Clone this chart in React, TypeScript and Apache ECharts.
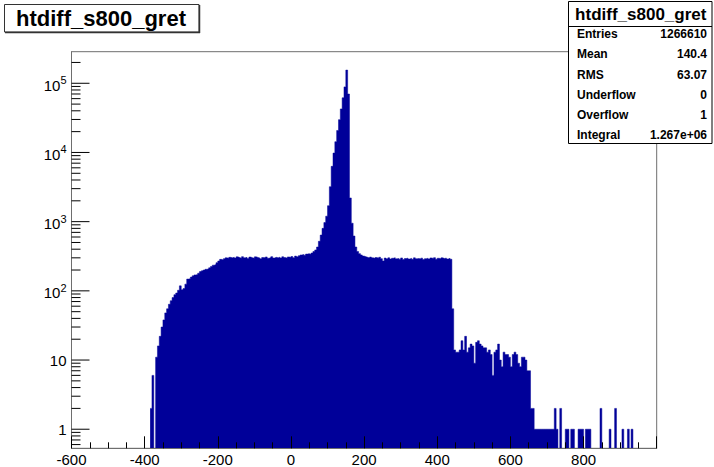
import React, { useEffect, useRef } from 'react';
import * as echarts from 'echarts';

// ---- data (5-unit bins, counts) ----
const binStart = -385;
const binWidth = 5;

// -385 .. -165
const countsRise = [
  2, 6, 0, 11, 16, 22, 30, 38, 48, 55,
  64, 72, 80, 88, 93, 102, 118, 104, 108, 125,
  148, 150, 158, 165, 170, 172, 180, 190, 195, 200,
  205, 207, 215, 225, 235, 240, 255, 270, 285, 280,
  292, 300, 295, 305, 300,
];
// -160 .. 55
const countsPlateauLeft = [
  306, 298, 310, 303, 296, 312, 300, 305, 293, 308,
  301, 297, 310, 304, 299, 290, 303, 300, 309, 296,
  303, 312, 298, 305, 300, 307, 299, 311, 303, 296,
  309, 305, 313, 302, 318, 310, 322, 330, 336, 328,
  340, 345, 338, 352,
];
// 60 .. 195
const countsPeak = [
  370, 390, 430, 520, 640, 800, 970, 1200, 1700, 3200,
  6300, 9800, 14300, 20800, 29800, 42600, 61700, 88700, 155000, 70000,
  2200, 950, 620, 430, 370, 345, 330, 318,
];
// 200 .. 435
const countsPlateauRight = [
  312, 305, 298, 308, 300, 295, 303, 297, 306, 292,
  270, 298, 291, 300, 288, 296, 302, 290, 294, 287,
  299, 284, 293, 297, 289, 295, 286, 300, 291, 294,
  288, 297, 283, 292, 296, 289, 299, 293, 302, 287,
  296, 291, 300, 294, 298, 289, 295, 286,
];
// 440 .. 660
const countsShelf = [
  55, 14, 13, 13, 14, 19, 14, 22, 13, 15,
  17, 16, 9, 18, 19, 17, 16, 15, 15, 13,
  14, 12, 6, 13, 14, 17, 10, 8, 13, 12,
  12, 11, 8, 12, 13, 12, 9, 8, 11, 11,
  10, 7, 7, 2, 2,
];
// 665 .. 930
const countsTail = [
  1, 1, 1, 1, 1, 1, 1, 1, 1, 1,
  1, 2, 1, 0, 2, 0, 0, 1, 1, 0,
  1, 1, 0, 0, 1, 1, 1, 0, 1, 1,
  1, 0, 0, 0, 0, 0, 2, 0, 0, 0,
  0, 1, 0, 0, 2, 0, 0, 0, 1, 0,
  0, 1, 0, 1,
];

const xMin = -600;
const xMax = 1000;
const xInterval = 200;
const yMin = 0.53;
const yMax = 2.86e5;
const yMajorTicks = [1, 10, 100, 1000, 10000, 100000];
const yMinorTicks = [
  0.6, 0.7, 0.8, 0.9,
  2, 3, 4, 5, 6, 7, 8, 9,
  20, 30, 40, 50, 60, 70, 80, 90,
  200, 300, 400, 500, 600, 700, 800, 900,
  2000, 3000, 4000, 5000, 6000, 7000, 8000, 9000,
  20000, 30000, 40000, 50000, 60000, 70000, 80000, 90000,
  200000,
];

const histTitle = 'htdiff_s800_gret';
const statsLabels = ['Entries', 'Mean', 'RMS', 'Underflow', 'Overflow', 'Integral'];
const statsValues = ['1266610', '140.4', '63.07', '0', '1', '1.267e+06'];

const FONT = '"Liberation Sans", Arial, Helvetica, sans-serif';
const FILL = '#000099';
const FRAME = '#6e6e6e';
const ZERO_FLOOR = 0.01;

export default function App() {
  const ref = useRef<HTMLDivElement>(null);

  useEffect(() => {
    if (!ref.current) return;
    const chart = echarts.init(ref.current, null, { renderer: 'svg' });

    const counts = [
      ...countsRise,
      ...countsPlateauLeft,
      ...countsPeak,
      ...countsPlateauRight,
      ...countsShelf,
      ...countsTail,
    ];
    const points: number[][] = counts.map((c, i) => [binStart + i * binWidth, c > 0 ? c : ZERO_FLOOR]);
    points.push([binStart + counts.length * binWidth, ZERO_FLOOR]);

    const tickData = [
      ...yMajorTicks.map((v) => [xMin, v, 1]),
      ...yMinorTicks.map((v) => [xMin, v, 0]),
    ];

    const statsGraphics: any[] = [];
    const boxX = 568;
    const boxY = 1;
    const boxW = 143.5;
    const boxH = 142;
    statsGraphics.push({
      type: 'rect',
      z: 100,
      shape: { x: boxX + 0.5, y: boxY + 0.5, width: boxW, height: boxH },
      style: { fill: '#fff', stroke: '#000', lineWidth: 1 },
    });
    statsGraphics.push({
      type: 'line',
      z: 101,
      shape: { x1: boxX, y1: 26.5, x2: boxX + boxW + 0.5, y2: 26.5 },
      style: { stroke: '#000', lineWidth: 1 },
    });
    statsGraphics.push({
      type: 'text',
      z: 101,
      x: boxX + boxW / 2 + 1,
      y: 14,
      style: {
        text: histTitle,
        font: `bold 17px ${FONT}`,
        fill: '#000',
        align: 'center',
        verticalAlign: 'middle',
        textAlign: 'center',
        textVerticalAlign: 'middle',
      },
    });
    statsLabels.forEach((lab, i) => {
      const y = 34.3 + i * 20.15;
      statsGraphics.push({
        type: 'text',
        z: 101,
        x: 577,
        y,
        style: {
          text: lab,
          font: `bold 12px ${FONT}`,
          fill: '#000',
          align: 'left',
          verticalAlign: 'middle',
          textAlign: 'left',
          textVerticalAlign: 'middle',
        },
      });
      statsGraphics.push({
        type: 'text',
        z: 101,
        x: 707,
        y,
        style: {
          text: statsValues[i],
          font: `bold 12px ${FONT}`,
          fill: '#000',
          align: 'right',
          verticalAlign: 'middle',
          textAlign: 'right',
          textVerticalAlign: 'middle',
        },
      });
    });

    const option: any = {
      animation: false,
      backgroundColor: '#ffffff',
      grid: {
        left: 71.5,
        right: 57.3,
        top: 51.7,
        bottom: 18.7,
        show: true,
        borderColor: FRAME,
        borderWidth: 1,
        backgroundColor: 'transparent',
        containLabel: false,
        outerBoundsMode: 'none',
      },
      xAxis: {
        type: 'value',
        min: xMin,
        max: xMax,
        interval: xInterval,
        z: 5,
        axisLine: { show: true, onZero: false, lineStyle: { color: FRAME, width: 1 } },
        axisTick: { show: true, inside: true, length: 12, lineStyle: { color: '#000', width: 1 } },
        minorTick: { show: true, splitNumber: 4, length: 6, lineStyle: { color: '#000', width: 1 } },
        splitLine: { show: false },
        minorSplitLine: { show: false },
        axisLabel: {
          margin: 5,
          fontFamily: FONT,
          fontSize: 15,
          lineHeight: 13,
          color: '#000',
          formatter: (v: number) => (v >= xMax ? '' : String(v)),
        },
      },
      yAxis: {
        type: 'log',
        logBase: 10,
        min: yMin,
        max: yMax,
        z: 5,
        axisLine: { show: true, onZero: false, lineStyle: { color: FRAME, width: 1 } },
        axisTick: { show: false },
        splitLine: { show: false },
        axisLabel: {
          margin: 5,
          fontFamily: FONT,
          fontSize: 15,
          color: '#000',
          formatter: (v: number) => {
            const l = Math.log10(v);
            const e = Math.round(l);
            if (Math.abs(l - e) > 1e-6) return '';
            if (e === 0) return '1';
            if (e === 1) return '10';
            return `{b|10}{sup|${e}}`;
          },
          rich: {
            b: { fontFamily: FONT, fontSize: 15, color: '#000', padding: [4, 0, 0, 0] },
            sup: { fontFamily: FONT, fontSize: 11, color: '#000', padding: [0, 0, 6, 0] },
          },
        },
      },
      series: [
        {
          type: 'line',
          step: 'end',
          data: points,
          symbol: 'none',
          silent: true,
          clip: true,
          z: 2,
          lineStyle: { color: FILL, width: 0.5 },
          areaStyle: { color: FILL, opacity: 1, origin: 'start' },
        },
        {
          type: 'custom',
          silent: true,
          z: 6,
          data: tickData,
          encode: { x: 0, y: 1 },
          renderItem: (params: any, api: any) => {
            const p = api.coord([api.value(0), api.value(1)]);
            const len = api.value(2) ? 18 : 9;
            return {
              type: 'line',
              shape: { x1: p[0], y1: p[1], x2: p[0] + len, y2: p[1] },
              style: { stroke: '#000', lineWidth: 1 },
            };
          },
        },
      ],
      graphic: [
        {
          type: 'rect',
          z: 100,
          shape: { x: 4.5, y: 4.5, width: 194.5, height: 27.5 },
          style: { fill: '#fff', stroke: '#333', lineWidth: 1 },
        },
        {
          type: 'line',
          z: 101,
          shape: { x1: 5, y1: 32.5, x2: 200, y2: 32.5 },
          style: { stroke: '#333', lineWidth: 1.5 },
        },
        {
          type: 'line',
          z: 101,
          shape: { x1: 199.5, y1: 5, x2: 199.5, y2: 33 },
          style: { stroke: '#333', lineWidth: 1.5 },
        },
        {
          type: 'text',
          z: 101,
          x: 101,
          y: 18,
          style: {
            text: histTitle,
            font: `bold 22px ${FONT}`,
            fill: '#000',
            align: 'center',
            verticalAlign: 'middle',
            textAlign: 'center',
            textVerticalAlign: 'middle',
          },
        },
        ...statsGraphics,
      ],
    };

    chart.setOption(option);
    return () => {
      chart.dispose();
    };
  }, []);

  return (
    <div
      ref={ref}
      style={{ position: 'absolute', left: 0, top: 0, width: 714, height: 467, background: '#fff' }}
    />
  );
}
